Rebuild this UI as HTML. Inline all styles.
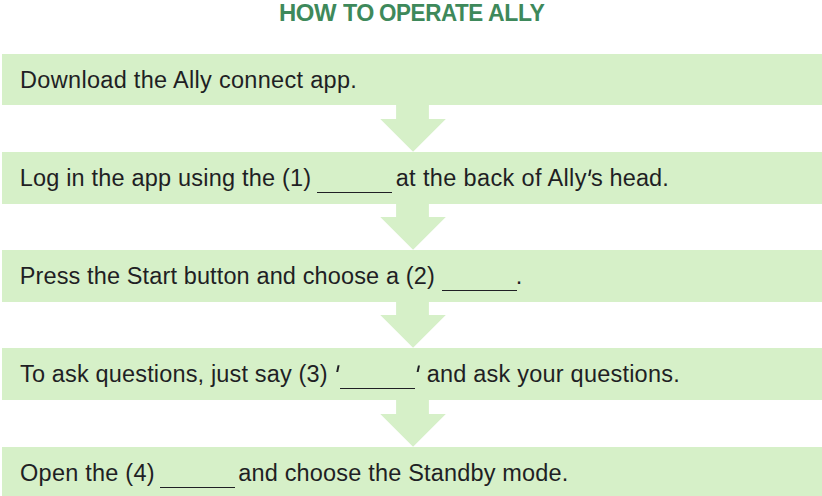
<!DOCTYPE html>
<html><head><meta charset="utf-8">
<style>
html,body{margin:0;padding:0;background:#fff;}
#c{position:relative;width:822px;height:496px;overflow:hidden;background:#fff;font-family:"Liberation Sans",sans-serif;}
svg{position:absolute;left:0;top:0;}
.t{position:absolute;white-space:pre;font-size:23.5px;line-height:30px;color:#1f1f24;}
.w{position:absolute;white-space:pre;letter-spacing:-0.4px;transform-origin:0 0;font-weight:bold;font-size:23.6px;line-height:30px;color:#3e895b;}
.u{position:absolute;height:1px;background:#1f1f24;}
</style></head><body>
<div id="c">
<svg width="822" height="496" viewBox="0 0 822 496"><g fill="#d6f0c8">
<rect x="2" y="54" width="820" height="51"/>
<rect x="2" y="152" width="820" height="52"/>
<rect x="2" y="250" width="820" height="52"/>
<rect x="2" y="348" width="820" height="52"/>
<rect x="2" y="447" width="820" height="49"/>
<polygon points="396.1,104.5 428.9,104.5 428.9,119 445.8,119 413.05,151.7 380.3,119 396.1,119"/>
<polygon points="396.1,203.5 428.9,203.5 428.9,217 445.8,217 413.05,249.7 380.3,217 396.1,217"/>
<polygon points="396.1,301.5 428.9,301.5 428.9,315 445.8,315 413.05,347.7 380.3,315 396.1,315"/>
<polygon points="396.1,399.5 428.9,399.5 428.9,414 445.8,414 413.05,446.7 380.3,414 396.1,414"/>
</g><g fill="#1f1f24"><polygon points="337.6,365.2 339.6,365.2 338.2,372 336.2,372"/><polygon points="418.0,365.4 420.0,365.4 418.6,372 416.6,372"/><polygon points="589.5,169.6 591.5,169.6 590.2,175.9 588.2,175.9"/></g></svg>
<div class="w" style="left:279.1px;top:-2px;transform:scaleX(1.0127)">HOW</div>
<div class="w" style="left:342.8px;top:-2px;transform:scaleX(0.9839)">TO</div>
<div class="w" style="left:379.3px;top:-2px;transform:scaleX(0.9491)">OPERATE</div>
<div class="w" style="left:488.4px;top:-2px;transform:scaleX(0.9754)">ALLY</div>
<div class="t" style="left:20.1px;top:65px;letter-spacing:0.303px">Download the Ally connect app.</div>
<div class="t" style="left:19.7px;top:163px;letter-spacing:0.193px">Log in the app using the (1)</div>
<div class="t" style="left:395.7px;top:163px;letter-spacing:0.361px">at the back of Ally</div>
<div class="t" style="left:591.1px;top:163px;letter-spacing:0.1px">s head.</div>
<div class="t" style="left:19.7px;top:261px;letter-spacing:0.129px">Press the Start button and choose a (2)</div>
<div class="t" style="left:515.8px;top:261px">.</div>
<div class="t" style="left:20.0px;top:359px;letter-spacing:0.159px">To ask questions, just say (3)</div>
<div class="t" style="left:426.7px;top:359px;letter-spacing:0.218px">and ask your questions.</div>
<div class="t" style="left:20.1px;top:458px;letter-spacing:0.227px">Open the (4)</div>
<div class="t" style="left:238.2px;top:458px;letter-spacing:0.181px">and choose the Standby mode.</div>
<div class="u" style="left:317px;top:192px;width:75px"></div>
<div class="u" style="left:442px;top:290px;width:75px"></div>
<div class="u" style="left:340px;top:388px;width:75px"></div>
<div class="u" style="left:160px;top:487px;width:75px"></div>
</div>
</body></html>
